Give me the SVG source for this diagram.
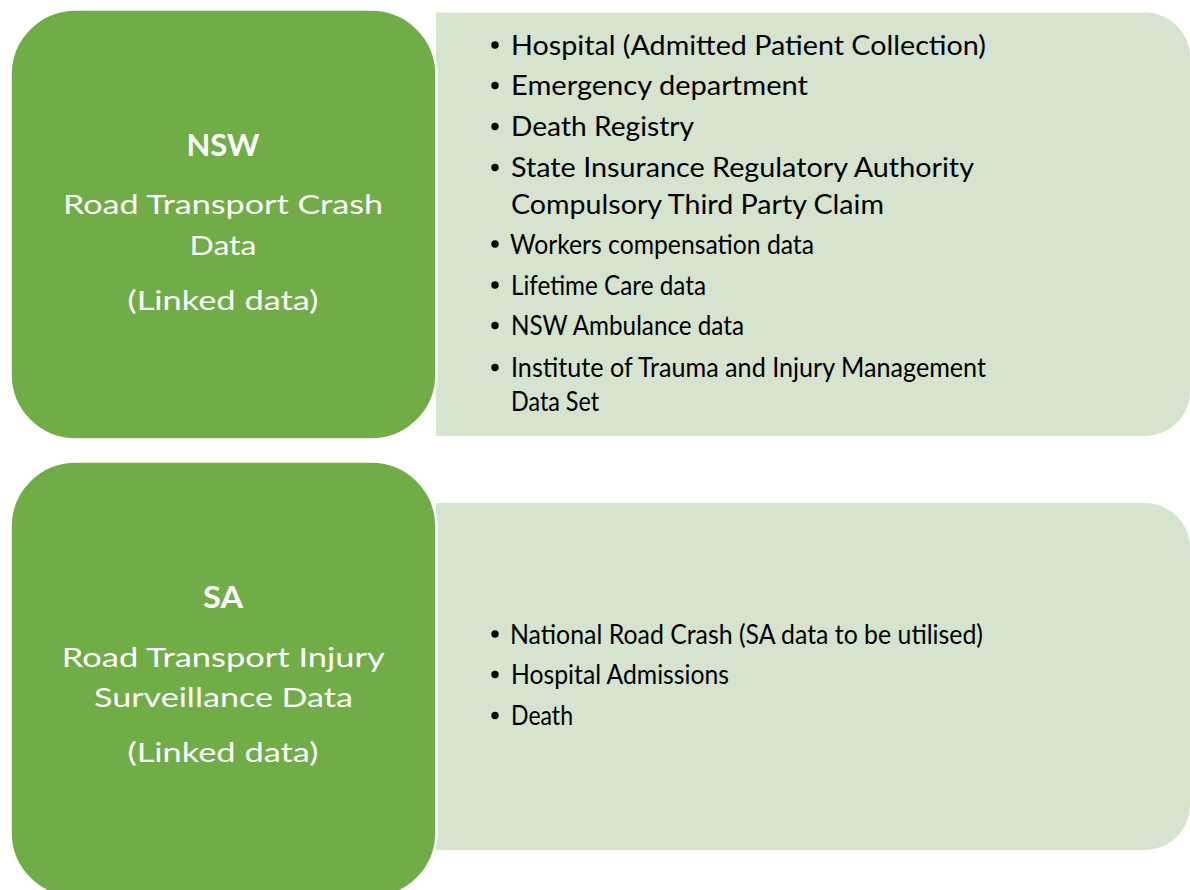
<svg xmlns="http://www.w3.org/2000/svg" width="1190" height="890" viewBox="0 0 1190 890">
  <style>
    .head { fill: #70AD47; stroke: #FFFFFF; stroke-width: 2.5; }
    .panel { fill: #D5E3CF; }
    .ht { font-family: Lato, "Noto Sans", sans-serif; font-size: 27.5px; fill: #FFFFFF; text-anchor: middle; }
    .hb { font-weight: bold; font-size: 30px; }
    .it { font-family: Lato, "Noto Sans", sans-serif; font-size: 26px; fill: #000000; }
    .dot { fill: #000000; }
  </style>

  <!-- NSW block -->
  <g id="nsw-sources">
    <path class="panel" d="M436 12.5 H1145 A45 45 0 0 1 1190 57.5 V391 A45 45 0 0 1 1145 436 H436 Z"/>
    <g class="dot">
      <circle cx="495" cy="45" r="3.7"/>
      <circle cx="495" cy="85.5" r="3.7"/>
      <circle cx="495" cy="126.5" r="3.7"/>
      <circle cx="495" cy="167.5" r="3.7"/>
      <circle cx="495" cy="244" r="3.7"/>
      <circle cx="495" cy="285" r="3.7"/>
      <circle cx="495" cy="325.5" r="3.7"/>
      <circle cx="495" cy="367.5" r="3.7"/>
    </g>
    <text class="it" x="511" y="54.5" textLength="475" lengthAdjust="spacingAndGlyphs">Hospital (Admitted Patient Collection)</text>
    <text class="it" x="511" y="95" textLength="297" lengthAdjust="spacingAndGlyphs">Emergency department</text>
    <text class="it" x="511" y="136" textLength="183" lengthAdjust="spacingAndGlyphs">Death Registry</text>
    <text class="it" x="511" y="177" textLength="463" lengthAdjust="spacingAndGlyphs">State Insurance Regulatory Authority</text>
    <text class="it" x="511" y="213.5" textLength="373" lengthAdjust="spacingAndGlyphs">Compulsory Third Party Claim</text>
    <text class="it" x="510" y="253.5" textLength="304" lengthAdjust="spacingAndGlyphs">Workers compensation data</text>
    <text class="it" x="511" y="294.5" textLength="195" lengthAdjust="spacingAndGlyphs">Lifetime Care data</text>
    <text class="it" x="511" y="335" textLength="233" lengthAdjust="spacingAndGlyphs">NSW Ambulance data</text>
    <text class="it" x="511" y="377" textLength="475" lengthAdjust="spacingAndGlyphs">Institute of Trauma and Injury Management</text>
    <text class="it" x="511" y="410.5" textLength="88" lengthAdjust="spacingAndGlyphs">Data Set</text>
  </g>
  <g id="nsw">
    <rect class="head" x="10.5" y="9.5" width="426" height="430" rx="65" ry="65"/>
    <text class="ht hb" x="223" y="156" textLength="73" lengthAdjust="spacingAndGlyphs">NSW</text>
    <text class="ht" x="223" y="213.5" textLength="320" lengthAdjust="spacingAndGlyphs">Road Transport Crash</text>
    <text class="ht" x="223" y="255" textLength="67" lengthAdjust="spacingAndGlyphs">Data</text>
    <text class="ht" x="223" y="309.5" textLength="191" lengthAdjust="spacingAndGlyphs">(Linked data)</text>
  </g>

  <!-- SA block -->
  <g id="sa-sources">
    <path class="panel" d="M436 503 H1145 A45 45 0 0 1 1190 548 V805 A45 45 0 0 1 1145 850 H436 Z"/>
    <g class="dot">
      <circle cx="495" cy="634" r="3.7"/>
      <circle cx="495" cy="674.5" r="3.7"/>
      <circle cx="495" cy="715.5" r="3.7"/>
    </g>
    <text class="it" x="510" y="643.5" textLength="473" lengthAdjust="spacingAndGlyphs">National Road Crash (SA data to be utilised)</text>
    <text class="it" x="511" y="684" textLength="218" lengthAdjust="spacingAndGlyphs">Hospital Admissions</text>
    <text class="it" x="511" y="725" textLength="62" lengthAdjust="spacingAndGlyphs">Death</text>
  </g>
  <g id="sa">
    <rect class="head" x="10.5" y="461.5" width="426" height="436" rx="65" ry="65"/>
    <text class="ht hb" x="223" y="608" textLength="40" lengthAdjust="spacingAndGlyphs">SA</text>
    <text class="ht" x="223.3" y="666.5" textLength="323" lengthAdjust="spacingAndGlyphs">Road Transport Injury</text>
    <text class="ht" x="223.5" y="706.5" textLength="259" lengthAdjust="spacingAndGlyphs">Surveillance Data</text>
    <text class="ht" x="223" y="762" textLength="191" lengthAdjust="spacingAndGlyphs">(Linked data)</text>
  </g>

  <!-- no connectors are drawn between the blocks -->
  <g id="connectors"/>
</svg>
